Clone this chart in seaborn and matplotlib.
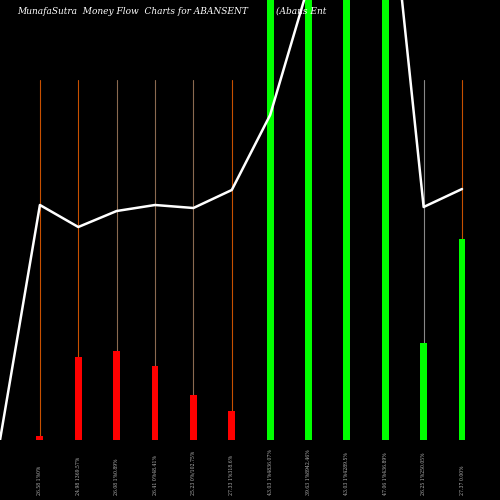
import matplotlib
matplotlib.use("Agg")
import matplotlib.pyplot as plt
import seaborn as sns
import pandas as pd

labels = ["26.58 1%0%", "24.98 1369.57%", "26.08 1%0.89%", "26.41 0%48.41%",
          "25.23 0%/102.75%", "27.33 1%318.6%", "43.03 1%4836.07%", "39.63 1%8942.46%",
          "43.03 1%4289.5%", "47.06 1%436.89%", "26.25 1%250.05%", "27.37 0.00%"]
bar_vals = [4, 83, 89, 74, 45, 29, 600, 600, 600, 600, 97, 201]
bar_colors = ["red"] * 6 + ["#00ff00"] * 6
stem_colors = ["#c85000", "#c85000", "#8a6a50", "#8a6a50", "#8a6a50", "#c85000",
               "#c85000", "#c85000", "#c85000", "#c85000", "#888888", "#c85000"]
line_x = [-1.04, 0, 1, 2, 3, 4, 5, 6, 7, 8, 9, 10, 11]
line_vals = [0, 235, 213, 229, 235, 232, 250, 325, 455, 560, 600, 233, 251]

sns.set_style("dark")
fig = plt.figure(figsize=(5, 5), dpi=100, facecolor="black")
ax = fig.add_axes([0, 0.12, 1, 0.88])
ax.set_facecolor("black")
ax.grid(False)

for i in range(12):
    ax.plot([i, i], [bar_vals[i], 360], color=stem_colors[i], lw=0.8, zorder=1)

df = pd.DataFrame({"x": range(12), "v": bar_vals, "c": [str(i) for i in range(12)]})
sns.barplot(data=df, x="x", y="v", hue="c", palette=bar_colors, legend=False,
            width=0.18, ax=ax, native_scale=True, zorder=2, saturation=1, linewidth=0)
ax.plot(line_x, line_vals, color="white", lw=1.8, zorder=3)

ax.set_xlim(-1.04, 11.99)
ax.set_ylim(0, 440)
ax.set_xticks([])
ax.set_yticks([])
ax.set_xlabel("")
ax.set_ylabel("")
for s in ax.spines.values():
    s.set_visible(False)

for i, lab in enumerate(labels):
    ax.text(i, -55, lab, rotation=90, ha="center", va="bottom", color="#bbbbbb",
            fontsize=3.3, family="DejaVu Serif", clip_on=False)

fig.text(0.035, 0.978, "MunafaSutra  Money Flow  Charts for ABANSENT", color="white",
         fontsize=6.5, style="italic", family="DejaVu Serif", va="center")
fig.text(0.552, 0.978, "(Abans Ent", color="white", fontsize=6.5, style="italic",
         family="DejaVu Serif", va="center")

fig.savefig("out.png", dpi=100, facecolor="black")
